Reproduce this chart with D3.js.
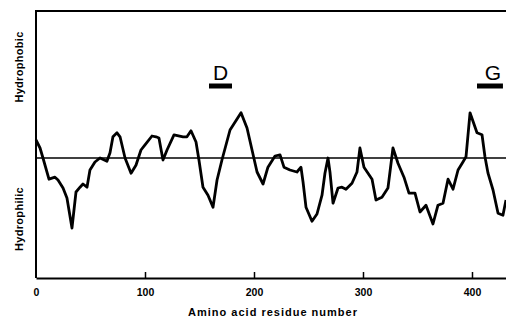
<!DOCTYPE html>
<html><head><meta charset="utf-8">
<script src="https://cdn.jsdelivr.net/npm/d3@7"></script>
<style>
html,body{margin:0;padding:0;background:#fff;}
svg{display:block;}
text{font-family:"Liberation Sans",Arial,Helvetica,sans-serif;fill:#000;}
</style></head>
<body>
<svg id="chart" width="506" height="323"></svg>
<script>
const residues = [0,3.7,6.4,11.9,17.4,20.2,24.8,28.4,33,36.7,40.4,43.1,46.8,49.5,54.1,58.7,65.1,67.9,70.6,74.3,77.1,81.7,87.2,91.7,96.3,100,106.4,110.1,112.8,116.5,120.2,126.6,134.9,138.5,142.2,146.8,149.5,153.2,157.8,162.4,166.1,170.6,178,188.1,193.6,198.2,202.8,208.3,212.8,219.3,223.9,227.5,233,239.4,243.1,245,247.7,253.2,257.8,262.4,265.1,267.9,269.7,272.5,277.1,280.7,284.4,289.9,294.5,297.2,300.9,304.6,308.3,311.9,317.4,322.9,327.5,332.1,337.6,342.2,347.7,352.3,357.8,364.2,368.8,373.4,378,382.6,387.2,391.7,394.5,398.2,404.6,409.2,411.9,414.7,419.3,423.9,428.4,431.2];
const hydropathy = [0.45,0.25,0,-0.53,-0.48,-0.55,-0.75,-1.0,-1.75,-0.85,-0.73,-0.65,-0.73,-0.3,-0.1,0,-0.08,0.13,0.53,0.63,0.53,0,-0.38,-0.18,0.2,0.33,0.55,0.53,0.5,-0.05,0.2,0.58,0.53,0.53,0.68,0.4,-0.05,-0.73,-0.93,-1.23,-0.55,-0.05,0.7,1.13,0.75,0.2,-0.35,-0.65,-0.23,0.05,0.08,-0.23,-0.3,-0.35,-0.23,-0.6,-1.23,-1.58,-1.4,-0.93,-0.38,0,-0.35,-1.13,-0.75,-0.73,-0.78,-0.63,-0.35,0.25,-0.23,-0.38,-0.53,-1.05,-0.98,-0.75,0.25,-0.13,-0.48,-0.88,-0.88,-1.35,-1.18,-1.65,-1.18,-1.13,-0.53,-0.78,-0.3,-0.1,0.03,1.13,0.63,0.58,0.03,-0.38,-0.8,-1.38,-1.43,-1.05];
const xTicks = [0,100,200,300,400];
const regionLabels = ["D","G"];
const regionStart = [158.7,404.6];
const regionEnd = [179.8,428.4];

const svg = d3.select("#chart");
const x = d3.scaleLinear().domain([0,431.2]).range([36,506]);
const y = d3.scaleLinear().domain([-3,3.675]).range([278,11]);

svg.append("line").attr("x1",x(0)).attr("x2",x(0)).attr("y1",y(3.675)).attr("y2",y(-3))
  .attr("stroke","#000").attr("stroke-width",2);
svg.append("line").attr("x1",x(0)-1).attr("x2",506).attr("y1",y(3.675)).attr("y2",y(3.675))
  .attr("stroke","#000").attr("stroke-width",2);
svg.append("line").attr("x1",x(0)).attr("x2",506).attr("y1",y(0)).attr("y2",y(0))
  .attr("stroke","#000").attr("stroke-width",1.4);

const xAxis = d3.axisBottom(x).tickValues(xTicks).tickSizeInner(-6).tickSizeOuter(0).tickPadding(11);
const gx = svg.append("g").attr("transform",`translate(0,${y(-3)})`).call(xAxis);
gx.select(".domain").attr("stroke","#000").attr("stroke-width",2);
gx.selectAll(".tick line").attr("stroke","#000").attr("stroke-width",1.5);
gx.selectAll(".tick").filter(d=>d===0).select("line").remove();
gx.selectAll(".tick text").attr("font-size",10.5).attr("font-weight","bold")
  .attr("font-family","'Liberation Sans',Arial,sans-serif");

const line = d3.line().x((d,i)=>x(residues[i])).y(d=>y(d));
svg.append("path").datum(hydropathy).attr("d",line).attr("fill","none")
  .attr("stroke","#000").attr("stroke-width",2.8).attr("stroke-linejoin","round");

regionLabels.forEach((lab,i)=>{
  svg.append("line").attr("x1",x(regionStart[i])).attr("x2",x(regionEnd[i]))
    .attr("y1",86).attr("y2",86).attr("stroke","#000").attr("stroke-width",5);
  svg.append("text").attr("x",(x(regionStart[i])+x(regionEnd[i]))/2 + (i===1?3:0)).attr("y",80)
    .attr("text-anchor","middle").attr("font-size",21).text(lab);
});

svg.append("text").attr("transform","translate(23,67) rotate(-90)").attr("text-anchor","middle")
  .attr("font-size",11).attr("font-weight","bold").attr("letter-spacing",0.3).text("Hydrophobic");
svg.append("text").attr("transform","translate(23,219) rotate(-90)").attr("text-anchor","middle")
  .attr("font-size",11).attr("font-weight","bold").attr("letter-spacing",0.3).text("Hydrophilic");

svg.append("text").attr("x",273).attr("y",316).attr("text-anchor","middle")
  .attr("font-size",11).attr("font-weight","bold").attr("letter-spacing",1)
  .text("Amino acid residue number");
</script>
</body></html>
